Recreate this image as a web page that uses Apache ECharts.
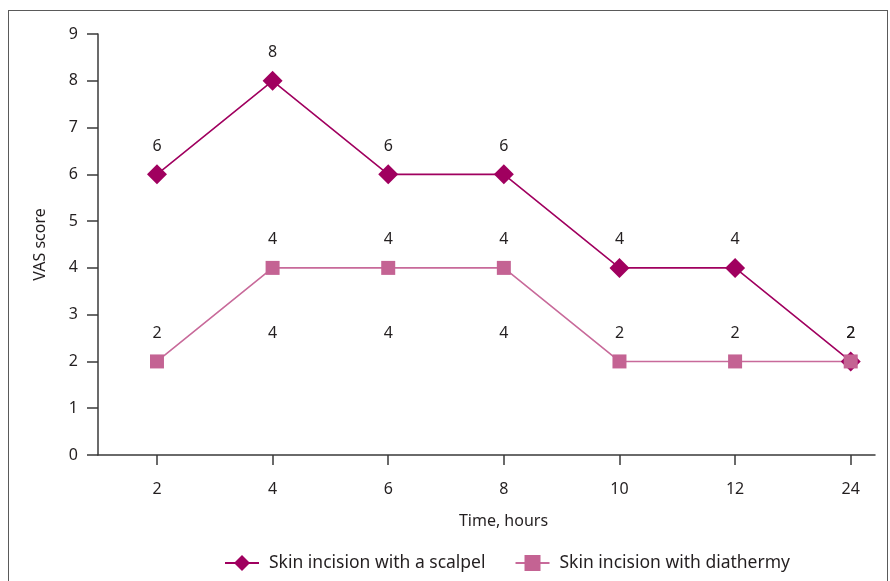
<!DOCTYPE html>
<html><head><meta charset="utf-8">
<script src="https://cdn.jsdelivr.net/npm/echarts@6/dist/echarts.min.js"></script>
<style>
html,body{margin:0;padding:0;background:#fff;}
#frame{position:absolute;left:8px;top:10px;width:880px;height:580px;border:1.5px solid #5a5a5a;box-sizing:border-box;}
#chart{position:absolute;left:0;top:0;width:890px;height:581px;}
</style></head>
<body>
<div id="frame"></div>
<div id="chart"></div>
<script>
const categories = ['2','4','6','8','10','12','24'];
const scalpel = [6,8,6,6,4,4,2];
const diathermy = [2,4,4,4,2,2,2];
const extraLabelValues = [null,2,2,2,null,null,null];
const extraLabelTexts = ['','4','4','4','','',''];
const yTicks = [0,1,2,3,4,5,6,7,8,9];

const font = 'Noto Sans';
const txt = '#231f20';
const axisCol = '#3a3a3a';
const fs = 16;
const idx = categories.map((c,i)=>i);

const chart = echarts.init(document.getElementById('chart'));
chart.setOption({
  animation:false,
  textStyle:{fontFamily:font},
  grid:{left:98,right:15,top:34,bottom:126,containLabel:false},
  xAxis:{
    type:'value', min:-0.51, max:6.21,
    name:'Time, hours', nameLocation:'middle', nameGap:58,
    nameTextStyle:{color:txt,fontSize:fs,fontFamily:font,padding:[0,0,0,34]},
    axisLine:{show:true,onZero:false,lineStyle:{color:axisCol,width:1.5}},
    axisTick:{show:true,length:10,inside:false,customValues:idx,lineStyle:{color:axisCol,width:1.5}},
    axisLabel:{customValues:idx,color:txt,fontSize:fs,margin:26,formatter:v=>categories[Math.round(v)]},
    splitLine:{show:false}
  },
  yAxis:{
    type:'value', min:0, max:9, interval:1,
    name:'VAS score', nameLocation:'middle', nameGap:50, nameRotate:90,
    nameTextStyle:{color:txt,fontSize:fs,fontFamily:font},
    axisLine:{show:true,onZero:false,lineStyle:{color:axisCol,width:1.5}},
    axisTick:{show:true,length:11,lineStyle:{color:axisCol,width:1.5}},
    axisLabel:{color:txt,fontSize:fs,margin:20,formatter:v=>yTicks.includes(v)?String(v):''},
    splitLine:{show:false}
  },
  legend:{
    bottom:4, left:219, itemWidth:34, itemHeight:20, itemGap:29,
    data:['Skin incision with a scalpel','Skin incision with diathermy'],
    textStyle:{color:txt,fontSize:17.5,fontFamily:font,padding:[0,0,0,5]}
  },
  series:[
    {
      name:'Skin incision with a scalpel', type:'line',
      data:scalpel.map((v,i)=>[i,v]),
      symbol:'diamond', symbolSize:20,
      lineStyle:{color:'#a0005f',width:1.6},
      itemStyle:{color:'#a0005f'},
      label:{show:true,position:'top',distance:10,color:txt,fontSize:fs,formatter:p=>String(p.value[1])}
    },
    {
      name:'Skin incision with diathermy', type:'line',
      data:diathermy.map((v,i)=>[i,v]),
      symbol:'rect', symbolSize:14,
      lineStyle:{color:'#c86a9a',width:1.6},
      itemStyle:{color:'#c46393'},
      label:{show:true,position:'top',distance:13,color:txt,fontSize:fs,formatter:p=>String(p.value[1])}
    },
    {
      name:'extra', type:'scatter', silent:true, z:5,
      data:extraLabelValues.map((v,i)=>[i,v]),
      symbol:'rect', symbolSize:14,
      itemStyle:{color:'rgba(255,255,255,0)'},
      label:{show:true,position:'top',distance:13,color:txt,opacity:1,textBorderWidth:0,fontSize:fs,formatter:p=>extraLabelTexts[p.dataIndex]}
    }
  ]
});
</script>
</body></html>
